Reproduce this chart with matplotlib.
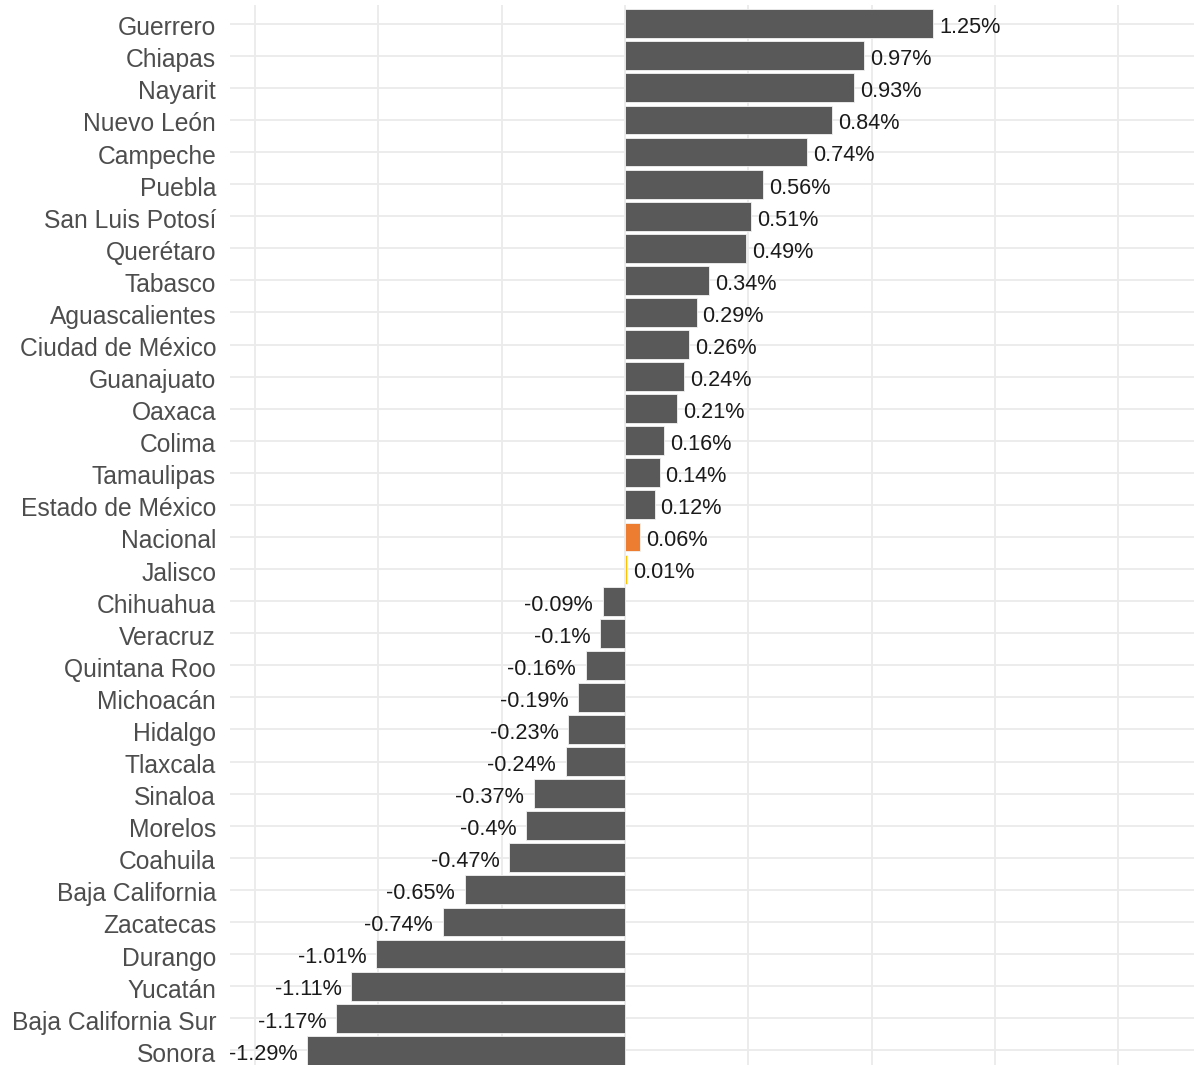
import matplotlib
matplotlib.use("Agg")
import matplotlib.pyplot as plt
import matplotlib.transforms as mtransforms

states = ["Guerrero", "Chiapas", "Nayarit", "Nuevo León", "Campeche", "Puebla",
          "San Luis Potosí", "Querétaro", "Tabasco", "Aguascalientes",
          "Ciudad de México", "Guanajuato", "Oaxaca", "Colima", "Tamaulipas",
          "Estado de México", "Nacional", "Jalisco", "Chihuahua", "Veracruz",
          "Quintana Roo", "Michoacán", "Hidalgo", "Tlaxcala", "Sinaloa",
          "Morelos", "Coahuila", "Baja California", "Zacatecas", "Durango",
          "Yucatán", "Baja California Sur", "Sonora"]
values = [1.25, 0.97, 0.93, 0.84, 0.74, 0.56, 0.51, 0.49, 0.34, 0.29, 0.26,
          0.24, 0.21, 0.16, 0.14, 0.12, 0.06, 0.01, -0.09, -0.1, -0.16, -0.19,
          -0.23, -0.24, -0.37, -0.4, -0.47, -0.65, -0.74, -1.01, -1.11, -1.17,
          -1.29]
labels = ["1.25%", "0.97%", "0.93%", "0.84%", "0.74%", "0.56%", "0.51%",
          "0.49%", "0.34%", "0.29%", "0.26%", "0.24%", "0.21%", "0.16%",
          "0.14%", "0.12%", "0.06%", "0.01%", "-0.09%", "-0.1%", "-0.16%",
          "-0.19%", "-0.23%", "-0.24%", "-0.37%", "-0.4%", "-0.47%", "-0.65%",
          "-0.74%", "-1.01%", "-1.11%", "-1.17%", "-1.29%"]

highlight = {"Nacional": "#ED7D31", "Jalisco": "#FFC000"}
base_color = "#595959"

plt.rcParams['font.family'] = ['Liberation Sans', 'DejaVu Sans']

W, H = 1194, 1065
fig = plt.figure(figsize=(W / 100, H / 100), dpi=100)
left_px, right_px = 230, 1194
top_px, bottom_px = 4.5, 1069.5
ax = fig.add_axes([left_px / W, (H - bottom_px) / H,
                   (right_px - left_px) / W, (bottom_px - top_px) / H])

n = len(states)
ypos = list(range(n))
colors = [highlight.get(s, base_color) for s in states]
ax.barh(ypos, values, height=0.9, color=colors, edgecolor="#f2f2f2",
        linewidth=0.6, zorder=3)

for y, v, lab in zip(ypos, values, labels):
    if v >= 0:
        ax.annotate(lab, (v, y), xytext=(4.3, -2.8), textcoords="offset points",
                    ha="left", va="center", fontsize=15.6, color="#1a1a1a",
                    zorder=4)
    else:
        ax.annotate(lab, (v, y), xytext=(-7.0, -2.8), textcoords="offset points",
                    ha="right", va="center", fontsize=15.6, color="#1a1a1a",
                    zorder=4)

ax.set_xlim((230 - 625) / 246.6, (1194 - 625) / 246.6)
ax.set_ylim(n - 1 + 0.6, -0.6)
ax.set_yticks(ypos)
ax.set_yticklabels(states, fontsize=17.7, color="#4D4D4D")
ax.set_xticks([-1.5, -1.0, -0.5, 0.0, 0.5, 1.0, 1.5, 2.0])
ax.set_xticklabels([])
ax.tick_params(axis="both", length=0, pad=10)
shift = mtransforms.ScaledTranslation(0, -2 / 100, fig.dpi_scale_trans)
for t in ax.get_yticklabels():
    t.set_transform(t.get_transform() + shift)
ax.grid(True, color="#EBEBEB", linewidth=1.3, zorder=0)
ax.set_axisbelow(True)
for sp in ax.spines.values():
    sp.set_visible(False)

fig.savefig("out.png", dpi=100)
